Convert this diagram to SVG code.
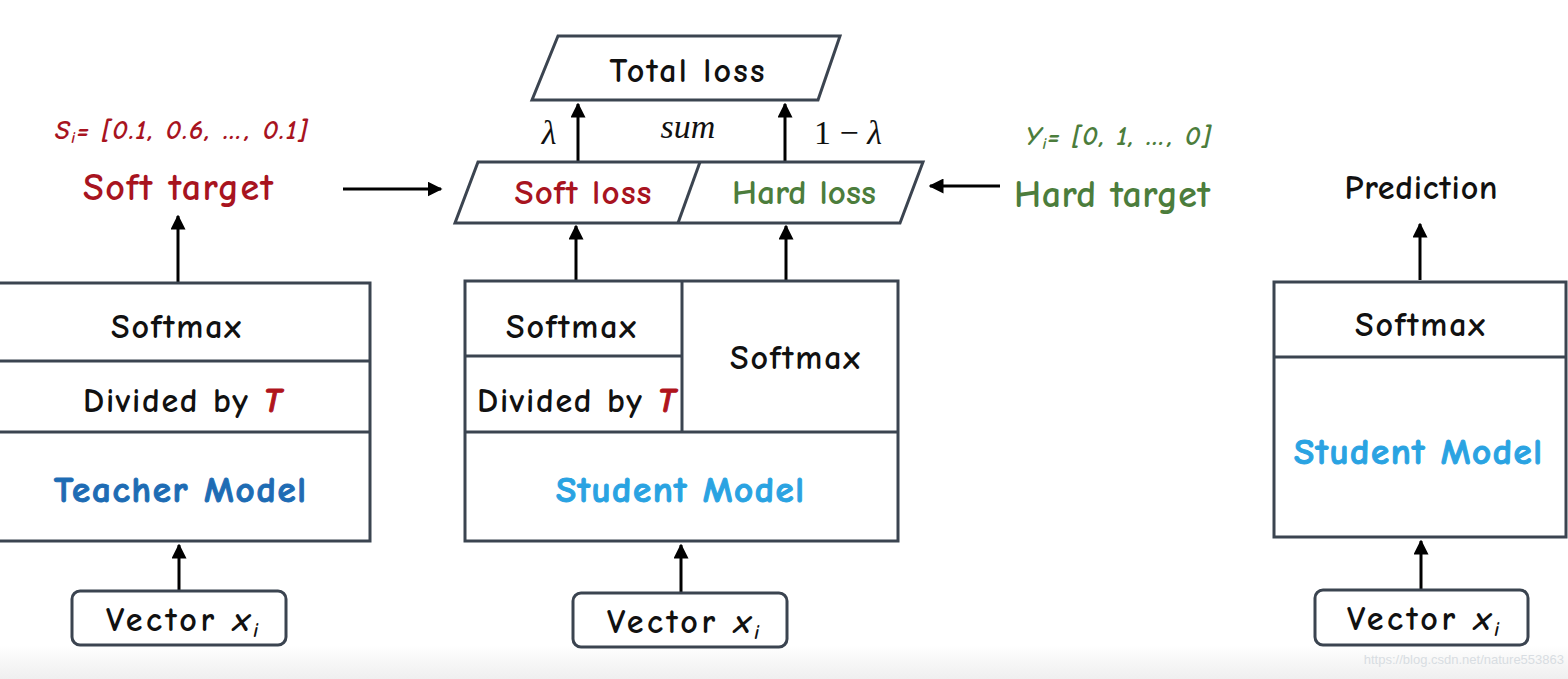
<svg xmlns="http://www.w3.org/2000/svg" width="1568" height="679" viewBox="0 0 1568 679">
<defs>
  <marker id="ah" viewBox="0 0 10 10" refX="9" refY="5" markerWidth="5" markerHeight="5" orient="auto" markerUnits="strokeWidth">
    <path d="M0,0 L10,5 L0,10 z" fill="#000"/>
  </marker>
  <linearGradient id="bot" x1="0" y1="0" x2="0" y2="1">
    <stop offset="0" stop-color="#ffffff"/>
    <stop offset="1" stop-color="#efefef"/>
  </linearGradient>
</defs>
<style>
  .box { fill: #fff; stroke: #3b4450; stroke-width: 3; }
  .ln { stroke: #3b4450; stroke-width: 3; fill: none; }
  .arr { stroke: #000; stroke-width: 3; fill: none; marker-end: url(#ah); }
  text { font-family: "Comic Neue", "Noto Sans", "DejaVu Sans", sans-serif; text-anchor: middle; font-weight: 700; }
  .blk { fill: #111; font-size: 34px; }
  .red { fill: #a8141f; }
  .grn { fill: #4c7d3c; }
  .mdl { font-size: 37px; stroke-width: 1px; }
  .tt { fill: #b0141c; stroke: #b0141c; stroke-width: 1px; font-style: italic; }
  .math { font-family: "Liberation Serif", "DejaVu Serif", serif; font-style: italic; font-weight: 400; font-size: 34px; fill: #111; }
  .mono { font-family: "Liberation Serif", "DejaVu Serif", serif; font-weight: 400; font-size: 34px; fill: #111; }
  .wm { font-family: "Liberation Sans", sans-serif; font-weight: 400; font-size: 13px; fill: #d8dde2; text-anchor: end; }
</style>
<rect x="0" y="0" width="1568" height="679" fill="#fff"/>
<rect x="0" y="645" width="1568" height="34" fill="url(#bot)"/>

<g id="connectors">
  <line class="arr" x1="179" y1="591" x2="179" y2="545"/>
  <line class="arr" x1="178" y1="283" x2="178" y2="216"/>
  <line class="arr" x1="343" y1="189" x2="441" y2="189"/>
  <line class="arr" x1="681" y1="593" x2="681" y2="545"/>
  <line class="arr" x1="576" y1="281" x2="576" y2="226"/>
  <line class="arr" x1="786" y1="281" x2="786" y2="226"/>
  <line class="arr" x1="578" y1="162" x2="578" y2="104"/>
  <line class="arr" x1="785" y1="162" x2="785" y2="104"/>
  <line class="arr" x1="1000" y1="186" x2="930" y2="186"/>
  <line class="arr" x1="1421" y1="590" x2="1421" y2="541"/>
  <line class="arr" x1="1420" y1="280" x2="1420" y2="224"/>
</g>

<g id="teacher">
  <rect class="box" x="-5" y="283" width="375" height="258"/>
  <line class="ln" x1="-5" y1="361" x2="370" y2="361"/>
  <line class="ln" x1="-5" y1="432" x2="370" y2="432"/>
  <text class="blk" x="176" y="338" textLength="130" lengthAdjust="spacing">Softmax</text>
  <text class="blk" x="182" y="412" textLength="198" lengthAdjust="spacing">Divided by <tspan class="tt">T</tspan></text>
  <text class="mdl" x="180" y="502" fill="#1e6cb4" stroke="#1e6cb4" textLength="252" lengthAdjust="spacing">Teacher Model</text>
</g>

<g id="teacher-input">
  <rect class="box" x="72" y="591" width="214" height="54" rx="8"/>
  <text class="blk" x="182" y="631" font-size="37" textLength="152" lengthAdjust="spacing">Vector <tspan font-style="italic">x</tspan><tspan font-style="italic" font-size="20" dy="6">i</tspan></text>
</g>

<g id="soft-target">
  <text x="181" y="139" font-size="27" font-style="italic" class="red" textLength="252" lengthAdjust="spacing">S<tspan font-size="16" dy="4">i</tspan><tspan dy="-4">= [0.1, 0.6, …, 0.1]</tspan></text>
  <text x="178" y="200" font-size="38" class="red" textLength="190" lengthAdjust="spacing">Soft target</text>
</g>

<g id="student">
  <rect class="box" x="465" y="281" width="433" height="260"/>
  <line class="ln" x1="682" y1="281" x2="682" y2="432"/>
  <line class="ln" x1="465" y1="356" x2="682" y2="356"/>
  <line class="ln" x1="465" y1="432" x2="898" y2="432"/>
  <text class="blk" x="571" y="338" textLength="130" lengthAdjust="spacing">Softmax</text>
  <text class="blk" x="576" y="412" textLength="198" lengthAdjust="spacing">Divided by <tspan class="tt">T</tspan></text>
  <text class="blk" x="795" y="369" textLength="130" lengthAdjust="spacing">Softmax</text>
  <text class="mdl" x="680" y="502" fill="#2aa3e2" stroke="#2aa3e2" textLength="248" lengthAdjust="spacing">Student Model</text>
</g>

<g id="student-input">
  <rect class="box" x="573" y="593" width="214" height="54" rx="8"/>
  <text class="blk" x="683" y="633" font-size="37" textLength="152" lengthAdjust="spacing">Vector <tspan font-style="italic">x</tspan><tspan font-style="italic" font-size="20" dy="6">i</tspan></text>
</g>

<g id="losses">
  <polygon class="box" points="478,162 923,162 900,223 455,223"/>
  <line class="ln" x1="700" y1="162" x2="678" y2="223"/>
  <text x="583" y="204" font-size="35" class="red" textLength="137" lengthAdjust="spacing">Soft loss</text>
  <text x="804" y="204" font-size="35" class="grn" textLength="144" lengthAdjust="spacing">Hard loss</text>
</g>

<g id="total-loss">
  <polygon class="box" points="558,36 840,36 818,100 532,100"/>
  <text class="blk" x="687" y="82" font-size="37" textLength="155" lengthAdjust="spacing">Total loss</text>
</g>

<g id="weights">
  <text class="math" x="549" y="144">λ</text>
  <text class="math" x="688" y="138">sum</text>
  <text class="mono" x="848" y="144">1 − <tspan font-style="italic">λ</tspan></text>
</g>

<g id="hard-target">
  <text x="1118" y="145" font-size="27" font-style="italic" class="grn" textLength="185" lengthAdjust="spacing">Y<tspan font-size="16" dy="4">i</tspan><tspan dy="-4">= [0, 1, …, 0]</tspan></text>
  <text x="1112" y="207" font-size="38" class="grn" textLength="196" lengthAdjust="spacing">Hard target</text>
</g>

<g id="prediction">
  <text class="blk" x="1421" y="199" font-size="33" textLength="153" lengthAdjust="spacing">Prediction</text>
</g>

<g id="student-deploy">
  <rect class="box" x="1274" y="282" width="292" height="255"/>
  <line class="ln" x1="1274" y1="357" x2="1566" y2="357"/>
  <text class="blk" x="1420" y="336" textLength="130" lengthAdjust="spacing">Softmax</text>
  <text class="mdl" x="1418" y="464" fill="#2aa3e2" stroke="#2aa3e2" textLength="248" lengthAdjust="spacing">Student Model</text>
</g>

<g id="deploy-input">
  <rect class="box" x="1315" y="590" width="213" height="55" rx="8"/>
  <text class="blk" x="1423" y="630" font-size="37" textLength="152" lengthAdjust="spacing">Vector <tspan font-style="italic">x</tspan><tspan font-style="italic" font-size="20" dy="6">i</tspan></text>
</g>

<text class="wm" x="1564" y="664">https://blog.csdn.net/nature553863</text>
</svg>
